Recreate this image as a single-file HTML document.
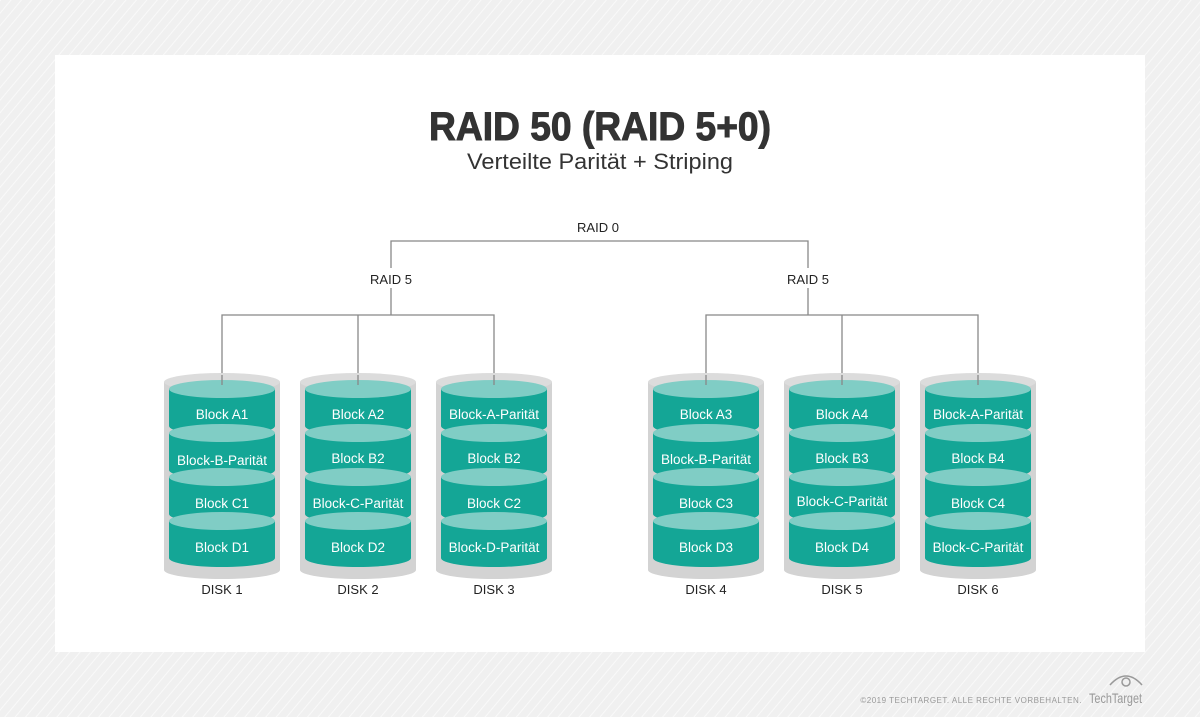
<!DOCTYPE html>
<html><head><meta charset="utf-8"><style>
html,body{margin:0;padding:0;width:1200px;height:717px;overflow:hidden;background:#f1f1f1}
svg{display:block}
text{font-family:"Liberation Sans",sans-serif}
</style></head><body>
<svg width="1200" height="717" viewBox="0 0 1200 717" xmlns="http://www.w3.org/2000/svg">
<defs>
<pattern id="st" width="8" height="8" patternUnits="userSpaceOnUse" patternTransform="rotate(40)">
<rect width="8" height="8" fill="#f0f0f0"/><rect width="1" height="8" fill="#f9f9f9"/>
</pattern>
<g id="seg">
<path d="M-53,0 L-53,37 A53,9 0 0 0 53,37 L53,0 Z" fill="#14a696"/>
<ellipse cx="0" cy="0" rx="53" ry="9" fill="#80cdc5"/>
</g>
<g id="cyl">
<path d="M-58,-7 L-58,181 A58,9 0 0 0 58,181 L58,-7 Z" fill="#d3d3d3"/>
<ellipse cx="0" cy="-7" rx="58" ry="9" fill="#dcdcdc"/>
<use href="#seg" y="0"/><use href="#seg" y="44"/><use href="#seg" y="88"/><use href="#seg" y="132"/>
</g>
</defs>
<rect width="1200" height="717" fill="url(#st)"/>
<rect x="55" y="55" width="1090" height="597" fill="#fff"/>
<text x="600" y="140" text-anchor="middle" font-size="40" font-weight="bold" fill="#333" stroke="#333" stroke-width="1" textLength="342" lengthAdjust="spacingAndGlyphs">RAID 50 (RAID 5+0)</text>
<text x="600" y="169" text-anchor="middle" font-size="22" fill="#333" textLength="266" lengthAdjust="spacingAndGlyphs">Verteilte Parität + Striping</text>
<g stroke="#888" stroke-width="1.3" fill="none">
<path d="M391,315 V241 H808 V315"/>
<path d="M222,385 V315 H494 V385 M358,315 V385"/>
<path d="M706,385 V315 H978 V385 M842,315 V385"/>
</g>
<rect x="565" y="216" width="66" height="20" fill="#fff"/>
<rect x="365" y="268" width="52" height="20" fill="#fff"/>
<rect x="782" y="268" width="52" height="20" fill="#fff"/>
<g font-size="13" fill="#222" text-anchor="middle">
<text x="598" y="232">RAID 0</text>
<text x="391" y="284">RAID 5</text>
<text x="808" y="284">RAID 5</text>
</g>
<g transform="translate(222,389)"><use href="#cyl"/></g>
<g transform="translate(358,389)"><use href="#cyl"/></g>
<g transform="translate(494,389)"><use href="#cyl"/></g>
<g transform="translate(706,389)"><use href="#cyl"/></g>
<g transform="translate(842,389)"><use href="#cyl"/></g>
<g transform="translate(978,389)"><use href="#cyl"/></g>
<g stroke="#888" stroke-width="1.3">
<path d="M222,375 V385 M358,375 V385 M494,375 V385 M706,375 V385 M842,375 V385 M978,375 V385"/>
</g>
<g font-size="13.5" fill="#fff" text-anchor="middle">
<text x="222" y="419">Block A1</text><text x="222" y="465">Block-B-Parität</text><text x="222" y="508">Block C1</text><text x="222" y="552">Block D1</text>
<text x="358" y="419">Block A2</text><text x="358" y="463">Block B2</text><text x="358" y="508">Block-C-Parität</text><text x="358" y="552">Block D2</text>
<text x="494" y="419">Block-A-Parität</text><text x="494" y="463">Block B2</text><text x="494" y="508">Block C2</text><text x="494" y="552">Block-D-Parität</text>
<text x="706" y="419">Block A3</text><text x="706" y="464">Block-B-Parität</text><text x="706" y="508">Block C3</text><text x="706" y="552">Block D3</text>
<text x="842" y="419">Block A4</text><text x="842" y="463">Block B3</text><text x="842" y="506">Block-C-Parität</text><text x="842" y="552">Block D4</text>
<text x="978" y="419">Block-A-Parität</text><text x="978" y="463">Block B4</text><text x="978" y="508">Block C4</text><text x="978" y="552">Block-C-Parität</text>
</g>
<g font-size="13" fill="#222" text-anchor="middle">
<text x="222" y="594">DISK 1</text><text x="358" y="594">DISK 2</text><text x="494" y="594">DISK 3</text>
<text x="706" y="594">DISK 4</text><text x="842" y="594">DISK 5</text><text x="978" y="594">DISK 6</text>
</g>
<text x="1082" y="703" text-anchor="end" font-size="8" fill="#999" letter-spacing="0.5">©2019 TECHTARGET. ALLE RECHTE VORBEHALTEN.</text>
<text x="1089" y="703" font-size="14" fill="#999" textLength="53" lengthAdjust="spacingAndGlyphs">TechTarget</text>
<g fill="none" stroke="#999" stroke-width="1.5">
<path d="M1110,685 Q1126,667 1142,685"/>
<circle cx="1126" cy="682" r="4"/>
</g>
</svg>
</body></html>
